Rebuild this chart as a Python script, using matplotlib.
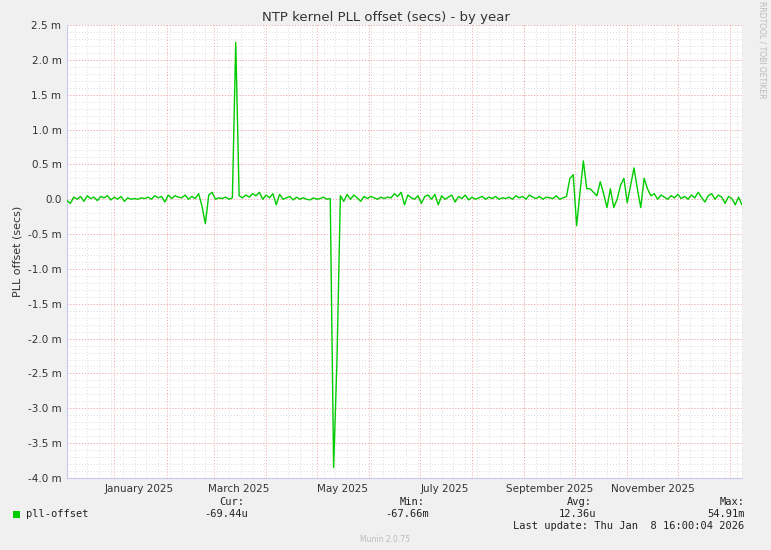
import datetime as dt
import matplotlib
matplotlib.use("Agg")
import matplotlib.pyplot as plt
from matplotlib.ticker import MultipleLocator, FixedLocator

start = dt.date(2024, 12, 4)
step_days = 2
offset_m = [
 -0.02, -0.06, 0.03, 0.0, 0.04, -0.03, 0.05, 0.01, 0.03, -0.02,
 0.04, 0.02, 0.05, -0.01, 0.03, 0.0, 0.04, -0.03, 0.02, 0.0,
 0.01, 0.0, 0.02, 0.01, 0.03, 0.0, 0.05, 0.02, 0.04, -0.04,
 0.06, 0.01, 0.05, 0.03, 0.02, 0.06, 0.0, 0.04, 0.01, 0.08,
 -0.1, -0.35, 0.06, 0.1, 0.0, 0.02, 0.01, 0.03, 0.0, 0.02,
 2.25, 0.05, 0.02, 0.06, 0.03, 0.08, 0.05, 0.1, 0.0, 0.06,
 0.02, 0.08, -0.08, 0.07, 0.0, 0.02, 0.04, -0.01, 0.03, 0.0,
 0.02, 0.0, -0.01, 0.02, 0.0, 0.01, 0.03, 0.0, 0.01, -3.85,
 -2.3, 0.05, -0.03, 0.07, 0.0, 0.06, 0.02, -0.03, 0.04, 0.01,
 0.04, 0.02, 0.0, 0.03, 0.01, 0.03, 0.02, 0.08, 0.04, 0.1,
 -0.08, 0.06, 0.02, 0.0, 0.05, -0.06, 0.04, 0.06, 0.0, 0.07,
 -0.08, 0.05, 0.0, 0.03, 0.06, -0.04, 0.04, 0.01, 0.06, -0.01,
 0.03, 0.0, 0.02, 0.04, 0.0, 0.03, 0.01, 0.04, 0.0, 0.02,
 0.01, 0.03, 0.0, 0.05, 0.02, 0.04, 0.0, 0.06, 0.03, 0.01,
 0.04, 0.0, 0.03, 0.02, 0.01, 0.05, 0.0, 0.02, 0.04, 0.3,
 0.35, -0.38, 0.1, 0.55, 0.15, 0.15, 0.1, 0.05, 0.25, 0.08,
 -0.12, 0.15, -0.12, 0.0, 0.2, 0.3, -0.05, 0.2, 0.45, 0.15,
 -0.12, 0.3, 0.15, 0.05, 0.08, 0.0, 0.06, 0.03, 0.0, 0.05,
 0.02, 0.07, 0.01, 0.04, 0.0, 0.06, 0.02, 0.1, 0.03, -0.04,
 0.05, 0.08, 0.0, 0.06, 0.03, -0.06, 0.04, 0.01, -0.08, 0.03,
 -0.08,
]
days = [i * step_days for i in range(len(offset_m))]

month_labels = ["January 2025", "March 2025", "May 2025", "July 2025", "September 2025", "November 2025"]
label_dates = [dt.date(2025, 1, 16), dt.date(2025, 3, 16), dt.date(2025, 5, 16),
               dt.date(2025, 7, 16), dt.date(2025, 9, 16), dt.date(2025, 11, 16)]
yticks = [2.5, 2.0, 1.5, 1.0, 0.5, 0.0, -0.5, -1.0, -1.5, -2.0, -2.5, -3.0, -3.5, -4.0]
ytick_labels = ["0.0" if v == 0 else f"{v:.1f} m" for v in yticks]
legend_name = "pll-offset"
stats = [("Cur:", "-69.44u"), ("Min:", "-67.66m"), ("Avg:", "12.36u"), ("Max:", "54.91m")]

fig = plt.figure(figsize=(7.71, 5.5), dpi=100, facecolor="#F0F0F0")
ax = fig.add_axes([67/771, 72/550, 675/771, 453/550], facecolor="white")

# grids
month_starts = []
d = dt.date(2025, 1, 1)
while (d - start).days <= 400:
    month_starts.append((d - start).days)
    d = dt.date(d.year + (d.month == 12), d.month % 12 + 1, 1)
week_lines = [x for x in range(5, 401, 7)]
for x in week_lines:
    ax.axvline(x, color="#DDDDDD", lw=0.7, ls=(0, (1, 2)), zorder=0)
for y in [v / 10 for v in range(-40, 26)]:
    ax.axhline(y, color="#DDDDDD", lw=0.7, ls=(0, (1, 2)), zorder=0)
for x in month_starts:
    ax.axvline(x, color="#F4A0A0", lw=0.7, ls=(0, (1, 2)), zorder=1)
for y in yticks:
    ax.axhline(y, color="#F4A0A0", lw=0.7, ls=(0, (1, 2)), zorder=1)

ax.plot(days, offset_m, color="#00CC00", lw=1.0, zorder=3, label=legend_name)
ax.set_xlim(0, 400)
ax.set_ylim(-4.0, 2.5)
ax.set_yticks(yticks)
ax.set_yticklabels(ytick_labels)
ax.xaxis.set_major_locator(FixedLocator([(ld - start).days for ld in label_dates]))
ax.set_xticklabels(month_labels)
ax.tick_params(axis="both", length=0, labelsize=7.5, colors="#333333", pad=4)
for s in ["top", "right"]:
    ax.spines[s].set_visible(False)
ax.spines["left"].set_color("#C8C8F0")
ax.spines["bottom"].set_color("#C8C8F0")
ax.set_ylabel("PLL offset (secs)", fontsize=8, color="#333333")
fig.text(0.5, 1 - 18/550, "NTP kernel PLL offset (secs) - by year", ha="center", va="center",
         fontsize=9.5, color="#333333")
fig.text(762/771, 1 - 50/550, "RRDTOOL / TOBI OETIKER", rotation=270, ha="center", va="center",
         fontsize=5.5, color="#BBBBBB")

mono = "DejaVu Sans Mono"
fig.patches.append(plt.Rectangle((13/771, 1 - 518/550), 7/771, 7/550, transform=fig.transFigure,
                                 facecolor="#00CC00", edgecolor="none"))
fig.text(26/771, 1 - 514/550, legend_name, ha="left", va="center", fontsize=7.5, family=mono, color="#222222")
xs = [244, 425, 592, 745]
for (h, v), x in zip(stats, xs):
    fig.text(x/771, 1 - 502/550, h, ha="right", va="center", fontsize=7.5, family=mono, color="#222222")
    fig.text(x/771 + (0 if h == "Max:" else 0.005), 1 - 514/550, v, ha="right", va="center",
             fontsize=7.5, family=mono, color="#222222")
fig.text(744/771, 1 - 526/550, "Last update: Thu Jan  8 16:00:04 2026", ha="right", va="center",
         fontsize=7.5, family=mono, color="#222222")
fig.text(385/771, 1 - 539/550, "Munin 2.0.75", ha="center", va="center", fontsize=5.5, color="#BBBBBB")

fig.savefig("out.png", dpi=100, facecolor=fig.get_facecolor())
